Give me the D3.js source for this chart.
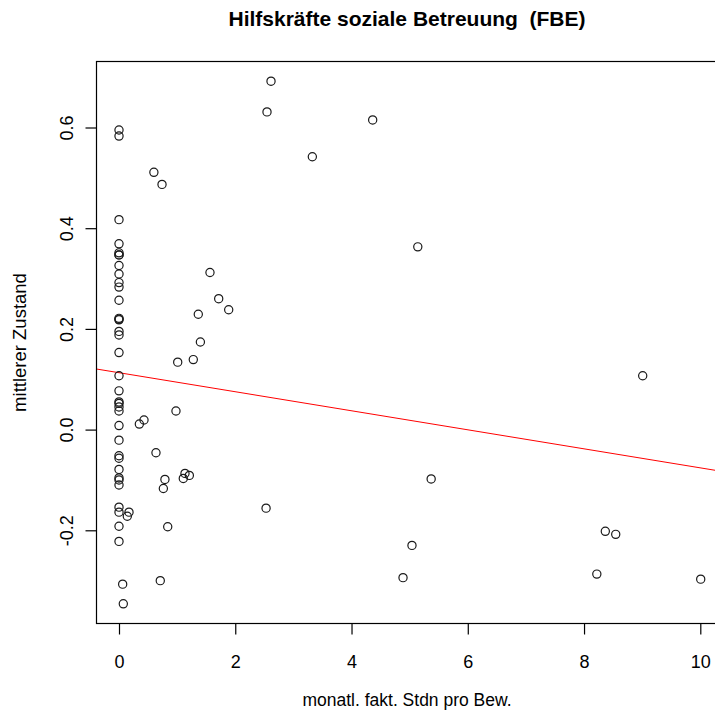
<!DOCTYPE html>
<html>
<head>
<meta charset="utf-8">
<script src="https://cdn.jsdelivr.net/npm/d3@7"></script>
<style>
  body { margin: 0; background: #fff; }
  svg text { font-family: "Liberation Sans", Arial, sans-serif; fill: #000; white-space: pre; }
</style>
</head>
<body>
<svg id="chart"></svg>
<script>
// values
const hours = [
  0, 0, 0, 0, 0, 0, 0, 0, 0, 0, 0, 0, 0, 0, 0, 0,
  0, 0, 0, 0, 0, 0, 0, 0, 0, 0, 0, 0, 0, 0, 0, 0, 0, 0, 0, 0,
  0.60, 0.74, 1.565, 1.715, 1.887, 1.364, 1.40, 1.01, 1.278,
  0.98, 0.35, 0.43, 0.636, 0.79, 0.763, 1.135, 1.106, 1.21,
  0.172, 0.143, 0.838, 0.063, 0.71, 0.074,
  2.615, 2.546, 4.364, 3.326,
  9.009, 8.366, 8.545, 8.22, 10.007,
  5.14, 5.37, 5.04, 4.886, 2.53
];
const zustand = [
  0.595, 0.583, 0.417, 0.369, 0.351, 0.347, 0.326, 0.309, 0.292, 0.283, 0.257, 0.221, 0.218, 0.195, 0.188, 0.153,
  0.107, 0.077, 0.055, 0.052, 0.045, 0.037, 0.008, -0.021, -0.052, -0.057, -0.079, -0.096, -0.100, -0.110, -0.154, -0.164, -0.192, -0.222, 0.347, 0.219,
  0.511, 0.487, 0.312, 0.260, 0.238, 0.229, 0.174, 0.134, 0.139,
  0.037, 0.011, 0.019, -0.046, -0.099, -0.117, -0.087, -0.097, -0.091,
  -0.164, -0.172, -0.193, -0.307, -0.300, -0.346,
  0.692, 0.631, 0.615, 0.542,
  0.107, -0.202, -0.208, -0.287, -0.297,
  0.363, -0.098, -0.230, -0.294, -0.156
];
const xTicks = [0, 2, 4, 6, 8, 10];
const yTicks = [-0.2, 0.0, 0.2, 0.4, 0.6];
const fitIntercept = 0.113;
const fitSlope = -0.0189;

const title = "Hilfskräfte soziale Betreuung  (FBE)";
const xLabel = "monatl. fakt. Stdn pro Bew.";
const yLabel = "mittlerer Zustand";

const width = 715, height = 713;
const box = { left: 96.5, top: 61.5, right: 719.5, bottom: 623.5 };

const x = d3.scaleLinear().domain([0, 10]).range([119, 700.3]);
const y = d3.scaleLinear().domain([0, 0.6]).range([429.6, 127.5]);

const svg = d3.select("#chart").attr("width", width).attr("height", height);

// regression line, clipped to the plot box
svg.append("clipPath").attr("id", "plotclip")
  .append("rect")
  .attr("x", box.left).attr("y", box.top)
  .attr("width", box.right - box.left).attr("height", box.bottom - box.top);

const x0 = x.invert(box.left), x1 = x.invert(box.right);
svg.append("line")
  .attr("clip-path", "url(#plotclip)")
  .attr("x1", x(x0)).attr("y1", y(fitIntercept + fitSlope * x0))
  .attr("x2", x(x1)).attr("y2", y(fitIntercept + fitSlope * x1))
  .attr("stroke", "#ff0000")
  .attr("stroke-width", 1);

svg.append("g")
  .selectAll("circle")
  .data(hours.map((h, i) => [h, zustand[i]]))
  .enter()
  .append("circle")
  .attr("cx", d => x(d[0]))
  .attr("cy", d => y(d[1]))
  .attr("r", 4.1)
  .attr("fill", "none")
  .attr("stroke", "#1a1a1a")
  .attr("stroke-width", 1.2);

svg.append("rect")
  .attr("x", box.left).attr("y", box.top)
  .attr("width", box.right - box.left).attr("height", box.bottom - box.top)
  .attr("fill", "none")
  .attr("stroke", "#000")
  .attr("stroke-width", 1.2);

const xAxis = d3.axisBottom(x).tickValues(xTicks).tickFormat(d3.format("d"))
  .tickSize(11).tickPadding(21);
svg.append("g")
  .attr("transform", "translate(0," + box.bottom + ")")
  .call(xAxis)
  .call(g => g.select(".domain").remove())
  .call(g => g.selectAll("line").attr("stroke-width", 1.2))
  .call(g => g.selectAll("text").attr("font-size", 18).attr("font-family", null));

const yAxis = d3.axisLeft(y).tickValues(yTicks).tickFormat(d3.format(".1f"))
  .tickSize(11);
const yg = svg.append("g")
  .attr("transform", "translate(" + box.left + ",0)")
  .call(yAxis)
  .call(g => g.select(".domain").remove())
  .call(g => g.selectAll("line").attr("stroke-width", 1.2));
yg.selectAll("text")
  .attr("font-size", 18)
  .attr("font-family", null)
  .attr("x", null).attr("dy", null)
  .attr("text-anchor", "middle")
  .attr("transform", "translate(-30,0) rotate(-90)")
  .attr("dy", "0.35em")
  .text(d => d3.format(".1f")(d).replace("\u2212", "-"));

svg.append("text")
  .attr("x", 407).attr("y", 26)
  .attr("text-anchor", "middle")
  .attr("font-size", 21)
  .attr("font-weight", "bold")
  .text(title);

svg.append("text")
  .attr("x", 407).attr("y", 706)
  .attr("text-anchor", "middle")
  .attr("font-size", 17.5)
  .text(xLabel);

svg.append("text")
  .attr("transform", "translate(26," + ((box.top + box.bottom) / 2) + ") rotate(-90)")
  .attr("text-anchor", "middle")
  .attr("font-size", 18.5)
  .text(yLabel);
</script>
</body>
</html>
